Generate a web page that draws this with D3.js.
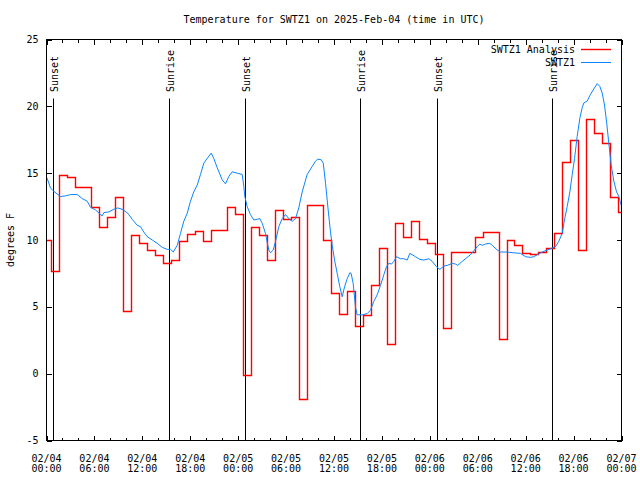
<!DOCTYPE html>
<html><head><meta charset="utf-8">
<script src="https://cdn.jsdelivr.net/npm/d3@7"></script>
<style>
body{margin:0;background:#fff}
svg text{font-family:"DejaVu Sans Mono","Liberation Mono",monospace;font-size:10px;fill:#000}
</style>
</head><body>
<svg id="c" width="640" height="480"></svg>
<script>
const title = "Temperature for SWTZ1 on 2025-Feb-04 (time in UTC)";
const yLabel = "degrees F";
const xTickHours = [0,6,12,18,24,30,36,42,48,54,60,66,72];
const xTickDates = ["02/04","02/04","02/04","02/04","02/05","02/05","02/05","02/05","02/06","02/06","02/06","02/06","02/07"];
const xTickTimes = ["00:00","06:00","12:00","18:00","00:00","06:00","12:00","18:00","00:00","06:00","12:00","18:00","00:00"];
const xMinorHours = d3.range(0, 73, 2).filter(h => h % 6 !== 0);
const yTicks = [-5,0,5,10,15,20,25];
const sunHours  = [0.79, 15.28, 24.83, 39.23, 48.87, 63.27];
const sunLabels = ["Sunset","Sunrise","Sunset","Sunrise","Sunset","Sunrise"];
const seriesNames = ["SWTZ1 Analysis","SWTZ1"];

// Analysis (hourly, each value holds from hour-0.4 to hour+0.6)
const analysisHours = d3.range(0, 73);
const analysisTemps = [10.0,7.7,14.9,14.7,14.0,14.0,12.5,11.0,11.75,13.2,
  4.7,10.4,9.8,9.25,8.9,8.25,8.5,9.93,10.45,10.68,
  9.93,10.75,10.75,12.5,11.95,-0.1,11.0,10.4,8.5,12.25,
  11.6,11.7,-1.9,12.6,12.6,10.0,6.0,4.5,6.2,3.55,
  4.4,6.6,9.4,2.2,11.25,10.2,11.4,10.05,9.75,8.95,
  3.4,9.1,9.1,9.1,10.2,10.6,10.6,2.6,10.0,9.6,
  9.0,8.95,9.1,9.4,10.5,15.8,17.5,9.25,19.05,18.0,
  17.25,13.25,12.1];

// Observations
const obsHours = [0.0,0.09,0.5,0.79,1.75,2.38,3.01,3.84,4.47,5.1,5.51,6.14,6.97,7.18,7.8,8.43,8.93,9.48,10.18,10.73,
  11.36,11.77,12.18,12.61,13.24,13.86,14.49,15.11,15.53,15.87,16.37,16.78,17.19,17.62,18.03,18.44,18.87,19.28,19.7,20.12,
  20.62,20.95,21.38,22.0,22.41,22.83,23.25,23.88,24.51,24.71,24.83,25.13,25.54,25.96,26.38,26.71,27.01,27.42,27.64,27.84,
  28.05,28.39,28.68,29.09,29.51,29.93,30.34,30.77,31.18,31.59,32.02,32.64,33.27,33.68,33.97,34.4,34.65,34.94,35.27,35.56,
  35.78,36.07,36.4,36.73,37.03,37.32,37.65,37.98,38.15,38.4,38.69,38.9,39.53,40.16,40.57,40.98,41.41,41.82,42.24,42.57,
  42.86,43.2,43.49,43.83,44.33,44.74,45.17,45.49,45.79,46.21,46.74,47.25,47.87,48.3,48.84,49.25,49.75,50.17,50.8,51.21,
  51.5,52.05,52.47,53.09,53.51,53.93,54.26,54.56,54.97,55.51,55.81,56.44,56.85,57.69,58.31,59.35,59.98,60.61,61.02,61.45,
  62.07,62.7,63.32,63.74,64.15,64.57,64.86,65.2,65.53,65.83,66.12,66.45,66.78,67.08,67.28,67.71,68.12,68.53,68.96,69.28,
  69.58,69.87,70.12,70.41,70.71,71.04,71.38,71.67,72.0];
const obsTemps = [14.7,14.6,13.9,13.7,13.25,13.3,13.4,13.4,13.1,12.9,12.45,12.25,11.8,12.05,12.1,12.3,12.4,12.3,12.0,11.55,
  11.1,11.0,10.6,10.25,10.0,9.75,9.45,9.3,9.3,9.1,9.6,10.5,11.4,12.0,12.9,13.6,14.1,14.9,15.75,16.1,
  16.5,16.1,15.4,14.5,14.2,14.75,15.1,15.0,14.9,14.0,13.25,12.5,11.9,11.5,11.55,11.6,11.25,10.5,9.8,9.25,
  9.05,9.25,9.9,11.0,11.6,11.9,11.6,11.4,11.6,12.4,13.6,14.9,15.5,15.9,16.05,16.0,15.75,14.25,12.25,10.6,
  9.6,8.5,7.5,6.5,5.75,6.5,7.1,7.55,7.5,6.75,5.0,4.4,4.4,4.5,4.75,5.4,5.9,6.6,7.4,8.0,
  8.25,8.2,8.4,8.75,8.6,8.6,8.5,9.0,8.9,8.75,8.55,8.5,8.6,8.4,8.0,7.8,8.05,8.1,8.25,8.2,
  8.1,8.4,8.6,8.9,9.2,9.5,9.7,9.6,9.7,9.75,9.6,9.25,9.1,9.1,9.05,9.0,8.75,8.7,8.75,8.9,
  9.1,9.25,9.4,9.5,9.9,10.5,11.5,12.5,13.6,14.9,16.1,17.75,19.1,19.9,20.25,20.4,20.9,21.3,21.7,21.5,
  21.0,20.1,18.9,17.25,15.6,14.4,13.6,13.25,12.5];

const svg = d3.select("#c");
const L = 46.5, R = 621.5, T = 39.5, B = 440.5;
const x = d3.scaleLinear().domain([0, 72]).range([L, R]);
const y = d3.scaleLinear().domain([-5, 25]).range([B, T]);

svg.append("rect").attr("width",640).attr("height",480).attr("fill","#fff");

svg.append("defs").append("clipPath").attr("id","clip")
  .append("rect").attr("x",L).attr("y",T).attr("width",R-L).attr("height",B-T);

// axes ticks (inward, mirrored)
function styleAxis(g){ g.select(".domain").remove(); g.selectAll("line").attr("stroke","#000").attr("shape-rendering","crispEdges"); g.selectAll("text").remove(); }
svg.append("g").attr("transform",`translate(0,${B})`).call(d3.axisBottom(x).tickValues(xTickHours).tickSize(-5).tickFormat("")).call(styleAxis);
svg.append("g").attr("transform",`translate(0,${B})`).call(d3.axisBottom(x).tickValues(xMinorHours).tickSize(-3).tickFormat("")).call(styleAxis);
svg.append("g").attr("transform",`translate(0,${T})`).call(d3.axisTop(x).tickValues(xTickHours).tickSize(-5).tickFormat("")).call(styleAxis);
svg.append("g").attr("transform",`translate(0,${T})`).call(d3.axisTop(x).tickValues(xMinorHours).tickSize(-3).tickFormat("")).call(styleAxis);
svg.append("g").attr("transform",`translate(${L},0)`).call(d3.axisLeft(y).tickValues(yTicks).tickSize(-5).tickFormat("")).call(styleAxis);
svg.append("g").attr("transform",`translate(${R},0)`).call(d3.axisRight(y).tickValues(yTicks).tickSize(-5).tickFormat("")).call(styleAxis);

// y tick labels
svg.append("g").selectAll("text").data(yTicks).join("text")
  .attr("x", L - 8).attr("y", d => y(d)).attr("dy","0.35em").attr("text-anchor","end")
  .text(d => d);

// x tick labels
const xl = svg.append("g").selectAll("text").data(xTickHours).join("text")
  .attr("text-anchor","middle");
xl.append("tspan").attr("x", d => x(d)).attr("y", 461.5).text((d,i) => xTickDates[i]);
xl.append("tspan").attr("x", d => x(d)).attr("y", 471.5).text((d,i) => xTickTimes[i]);

// title & y label
svg.append("text").attr("x",(L+R)/2).attr("y",22.5).attr("text-anchor","middle").text(title);
svg.append("text").attr("transform",`translate(14,${(T+B)/2}) rotate(-90)`).attr("text-anchor","middle").text(yLabel);

// sunrise / sunset lines
const sun = svg.append("g");
sun.selectAll("line").data(sunHours).join("line")
  .attr("x1", d => Math.round(x(d)) + 0.5).attr("x2", d => Math.round(x(d)) + 0.5)
  .attr("y1", B).attr("y2", 98.5).attr("stroke","#000").attr("stroke-width",1);
sun.selectAll("text").data(sunHours).join("text")
  .attr("transform", d => `translate(${Math.round(x(d)) + 5},92) rotate(-90)`)
  .attr("text-anchor","start")
  .text((d,i) => sunLabels[i]);

// analysis step line
const aPts = analysisHours.map((h,i) => [h - 0.4, analysisTemps[i]]);
aPts.push([72.5, analysisTemps[analysisTemps.length-1]]);
svg.append("path").attr("clip-path","url(#clip)")
  .attr("d", d3.line().x(d => Math.round(x(d[0])) + 0.5).y(d => Math.round(y(d[1])) + 0.5).curve(d3.curveStepAfter)(aPts))
  .attr("fill","none").attr("stroke","#ff0000").attr("stroke-width",1.4);

// observations line
const oPts = obsHours.map((h,i) => [h, obsTemps[i]]);
svg.append("path").attr("clip-path","url(#clip)")
  .attr("d", d3.line().x(d => x(d[0])).y(d => y(d[1]))(oPts))
  .attr("fill","none").attr("stroke","#0a84ff").attr("stroke-width",1);

// frame
svg.append("rect").attr("x",L).attr("y",T).attr("width",R-L).attr("height",B-T)
  .attr("fill","none").attr("stroke","#000").attr("shape-rendering","crispEdges");

// legend
const leg = svg.append("g");
const legColors = ["#ff0000","#0a84ff"];
seriesNames.forEach((n,i) => {
  const ly = 49 + i*13.3;
  leg.append("text").attr("x",575).attr("y",ly).attr("dy","0.35em").attr("text-anchor","end").text(n);
  leg.append("line").attr("x1",581).attr("x2",611).attr("y1",Math.round(ly)+0.5).attr("y2",Math.round(ly)+0.5)
    .attr("stroke",legColors[i]).attr("stroke-width", i===0?1.4:1);
});
</script>
</body></html>
